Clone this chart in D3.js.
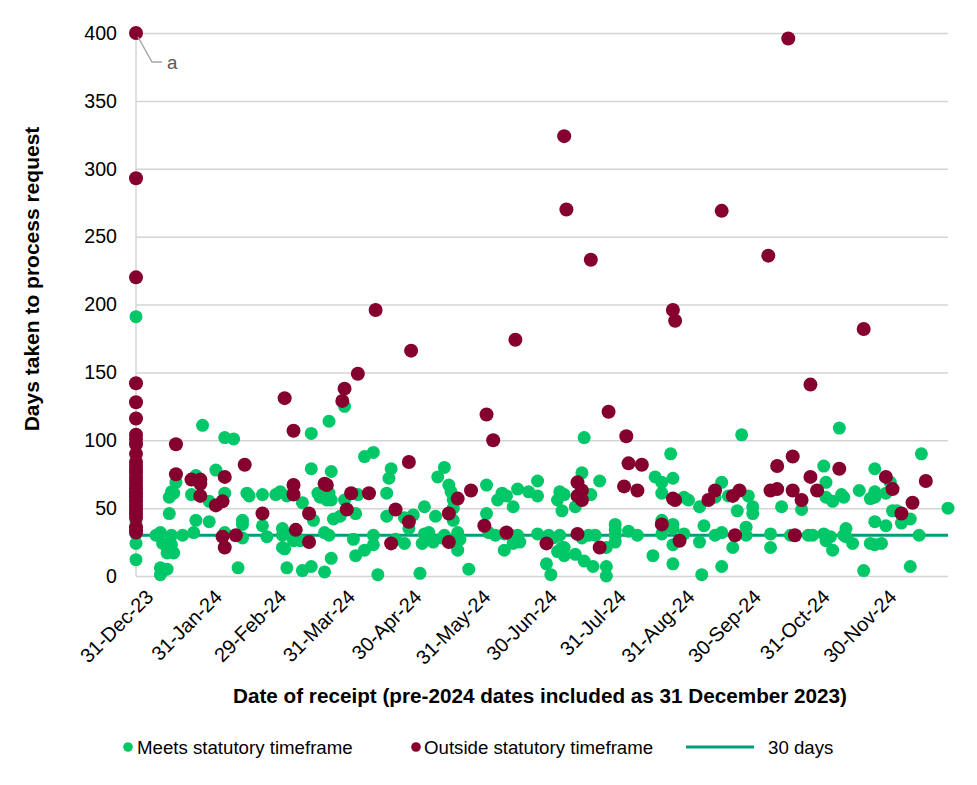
<!DOCTYPE html>
<html>
<head>
<meta charset="utf-8">
<script src="https://cdn.jsdelivr.net/npm/d3@7"></script>
<style>
  html, body { margin: 0; padding: 0; background: #fff; }
  svg { display: block; font-family: "Liberation Sans", Arial, sans-serif; }
</style>
</head>
<body>
<svg id="chart" width="977" height="785"></svg>
<script>
// ---------------- DATA ----------------
// Receipt day = days after 31 Dec 2023 (pre-2024 receipts are plotted at day 0)
const baseDate = "2023-12-31";
const axisEndDate = "2024-12-31";

// Meets statutory timeframe: [receipt day, days taken]
const meetsDay0 = [191, 45, 40, 31, 24, 12];
const meetsPoints = [
  [79,105],[87,114],[30,111],[40,102],[44,101],[94,125],[103,88],[107,91],[79,79],[88,77],[115,79],[114,72],
  [18,69],[27,74],[36,78],[16,62],[17,61],[15,58],[25,60],[33,55],[40,61],[50,61],[51,59],[57,60],[63,60],
  [65,62],[68,59],[75,54],[82,61],[83,58],[85,62],[87,61],[86,56],[88,56],[94,56],[100,60],[113,61],[113,44],
  [15,46],[27,41],[33,40],[48,41],[48,38],[57,37],[92,44],[89,42],[80,41],[99,46],[66,35],[67,31],[66,30],
  [11,32],[9,30],[12,24],[16,30],[16,23],[17,17],[14,17],[21,30],[26,32],[40,32],[48,28],[59,29],[71,26],
  [74,26],[66,21],[67,20],[85,32],[87,30],[98,27],[103,19],[107,23],[107,30],[99,15],[117,27],[11,6],[11,1],
  [14,5],[46,6],[68,6],[75,4],[79,7],[85,3],[88,13],[109,1],[128,2],
  [202,102],[241,90],[234,73],[237,69],[242,72],[237,61],[121,43],[125,45],[123,35],[121,24],
  [130,51],[135,44],[136,73],[139,80],[141,67],[142,62],[143,56],[143,50],[143,41],[129,24],[130,31],[132,32],
  [134,25],[138,28],[139,30],[145,32],[146,27],[145,19],[150,5],[158,67],[158,46],[159,32],[162,30],[166,31],
  [166,19],[163,56],[165,61],[167,59],[172,64],[170,51],[169,30],[171,28],[172,30],[170,24],[173,25],[177,62],
  [181,70],[181,59],[181,31],[185,9],[187,1],[186,30],[188,28],[191,30],[192,21],[190,18],[193,15],[198,16],
  [193,21],[191,62],[192,60],[193,60],[190,56],[192,48],[201,76],[198,51],[205,60],[209,70],[201,28],[204,30],
  [207,30],[202,11],[206,7],[212,7],[212,0],[212,21],[216,38],[216,34],[216,30],[216,25],[222,33],[226,30],
  [233,15],[237,41],[237,31],[242,38],[242,35],[242,23],[242,9],
  [317,109],[273,104],[310,81],[354,90],[333,79],[340,69],[311,69],[311,58],[314,55],[319,58],[318,60],
  [300,49],[291,51],[267,59],[276,59],[264,69],[261,58],[271,48],[278,51],[278,46],[254,51],[247,58],[249,56],
  [247,31],[254,25],[256,37],[255,1],[261,30],[264,32],[264,7],[269,21],[275,36],[275,30],[286,31],[286,21],
  [295,30],[303,30],[305,30],[310,31],[311,26],[313,29],[314,19],[320,35],[319,30],[320,29],[323,24],[326,63],
  [331,57],[333,58],[333,62],[333,40],[338,37],[331,24],[333,23],[336,24],[328,4],[341,48],[343,48],[345,39],
  [349,42],[353,30],[349,7],[366,50],[338,61]
];

// Outside statutory timeframe: [receipt day, days taken]
const outsideDay0 = [400, 293, 220, 142, 128, 116, 104, 101, 97, 90, 84, 81, 78, 76, 73, 70, 67, 64, 61, 58,
  55, 52, 49, 46, 43, 36, 34, 32];
const outsidePoints = [
  [108,196],[100,149],[94,138],[93,129],[67,131],[71,107],[18,97],[49,82],[18,75],[25,71],[29,71],[29,68],
  [40,73],[29,59],[36,52],[39,55],[71,67],[71,60],[85,68],[86,67],[97,61],[95,49],[105,61],[117,49],[57,46],
  [78,46],[72,34],[39,29],[40,21],[45,30],[78,25],[115,24],
  [124,166],[171,174],[242,196],[243,188],[158,119],[161,100],[213,121],[221,103],[222,83],[228,82],[220,66],
  [226,63],[242,57],[243,56],[123,84],[123,40],[145,57],[141,46],[141,25],[151,63],[157,37],[167,32],[185,24],
  [199,69],[199,59],[201,63],[201,56],[199,31],[209,21],[237,38],[245,26],
  [193,324],[194,270],[205,233],[264,269],[285,236],[294,396],
  [328,182],[304,141],[296,88],[289,81],[317,79],[356,70],[338,73],[341,64],[304,73],[307,63],[300,56],
  [296,63],[286,63],[289,64],[272,63],[269,59],[261,63],[258,56],[270,30],[297,30],[345,46],[350,54]
];

const statutoryDays = 30;
const yTicks = [0, 50, 100, 150, 200, 250, 300, 350, 400];
const xTickDates = ["2023-12-31","2024-01-31","2024-02-29","2024-03-31","2024-04-30","2024-05-31",
  "2024-06-30","2024-07-31","2024-08-31","2024-09-30","2024-10-31","2024-11-30"];
const noteLabel = "a";

// ---------------- RENDER ----------------
const parse = d3.timeParse("%Y-%m-%d");
const base = parse(baseDate);
const toDate = d => d3.timeDay.offset(base, d);

const meets = meetsDay0.map(v => [0, v]).concat(meetsPoints);
const outside = outsideDay0.map(v => [0, v]).concat(outsidePoints);

const C = { green: "#00c767", maroon: "#85002f", line: "#009e79", grid: "#d4d4d4", text: "#000" };
const plot = { left: 136, right: 948, top: 33, bottom: 576 };

const svg = d3.select("#chart");
const x = d3.scaleTime().domain([base, parse(axisEndDate)]).range([plot.left, plot.right]);
const y = d3.scaleLinear().domain([0, 400]).range([plot.bottom, plot.top]);

const FS = 18.67;
const TFS = 19.6;

// Y axis with gridlines
const yAxis = svg.append("g")
  .attr("transform", `translate(${plot.left},0)`)
  .call(d3.axisLeft(y).tickValues(yTicks).tickSize(-(plot.right - plot.left)).tickPadding(19));
yAxis.select(".domain").remove();
yAxis.selectAll(".tick line").attr("stroke", C.grid).attr("stroke-width", 1.5);
yAxis.selectAll(".tick text").attr("font-size", TFS).attr("fill", C.text)
  .attr("font-family", '"Liberation Sans", Arial, sans-serif');

// left axis line
svg.append("line").attr("x1", plot.left).attr("x2", plot.left)
  .attr("y1", plot.top).attr("y2", plot.bottom).attr("stroke", C.grid).attr("stroke-width", 1.5);

// X axis labels
const xAxis = svg.append("g")
  .attr("transform", `translate(0,${plot.bottom})`)
  .call(d3.axisBottom(x).tickValues(xTickDates.map(parse)).tickFormat(d3.timeFormat("%d-%b-%y")).tickSize(0));
xAxis.select(".domain").remove();
xAxis.selectAll(".tick text")
  .attr("font-size", 20).attr("fill", C.text)
  .attr("font-family", '"Liberation Sans", Arial, sans-serif')
  .attr("text-anchor", "end")
  .attr("y", 0).attr("dy", "0.71em")
  .attr("transform", "translate(8,12) rotate(-45)");

// 30 day line
svg.append("line")
  .attr("x1", plot.left).attr("x2", plot.right)
  .attr("y1", y(statutoryDays)).attr("y2", y(statutoryDays))
  .attr("stroke", C.line).attr("stroke-width", 3);

// points
svg.append("g").selectAll("circle").data(meets).join("circle")
  .attr("cx", d => x(toDate(d[0]))).attr("cy", d => y(d[1])).attr("r", 6.5).attr("fill", C.green);
svg.append("g").selectAll("circle").data(outside).join("circle")
  .attr("cx", d => x(toDate(d[0]))).attr("cy", d => y(d[1])).attr("r", 7).attr("fill", C.maroon);

// annotation "a"
const maxPt = outside.reduce((a, b) => (b[1] > a[1] ? b : a));
const ax = x(toDate(maxPt[0])), ay = y(maxPt[1]);
svg.append("path")
  .attr("d", `M${ax + 2},${ay + 4} L${ax + 16},${ay + 29} L${ax + 26},${ay + 29}`)
  .attr("fill", "none").attr("stroke", "#a6a6a6").attr("stroke-width", 1.5);
svg.append("text").attr("x", ax + 31).attr("y", ay + 36).attr("font-size", FS).attr("fill", "#595959")
  .text(noteLabel);

// Axis titles
svg.append("text")
  .attr("transform", `translate(39,279) rotate(-90)`)
  .attr("text-anchor", "middle").attr("font-size", 21).attr("font-weight", "bold").attr("fill", C.text)
  .text("Days taken to process request");
svg.append("text")
  .attr("x", 540).attr("y", 703)
  .attr("text-anchor", "middle").attr("font-size", 20.7).attr("font-weight", "bold").attr("fill", C.text)
  .text("Date of receipt (pre-2024 dates included as 31 December 2023)");

// Legend
const lg = svg.append("g");
const ly = 747;
lg.append("circle").attr("cx", 128).attr("cy", ly).attr("r", 4.8).attr("fill", C.green);
lg.append("text").attr("x", 137).attr("y", ly + 7).attr("font-size", FS).attr("fill", C.text)
  .text("Meets statutory timeframe");
lg.append("circle").attr("cx", 416).attr("cy", ly).attr("r", 4.8).attr("fill", C.maroon);
lg.append("text").attr("x", 424).attr("y", ly + 7).attr("font-size", FS).attr("fill", C.text)
  .text("Outside statutory timeframe");
lg.append("line").attr("x1", 686).attr("x2", 754).attr("y1", ly).attr("y2", ly)
  .attr("stroke", C.line).attr("stroke-width", 3);
lg.append("text").attr("x", 768).attr("y", ly + 7).attr("font-size", FS).attr("fill", C.text)
  .text("30 days");
</script>
</body>
</html>
